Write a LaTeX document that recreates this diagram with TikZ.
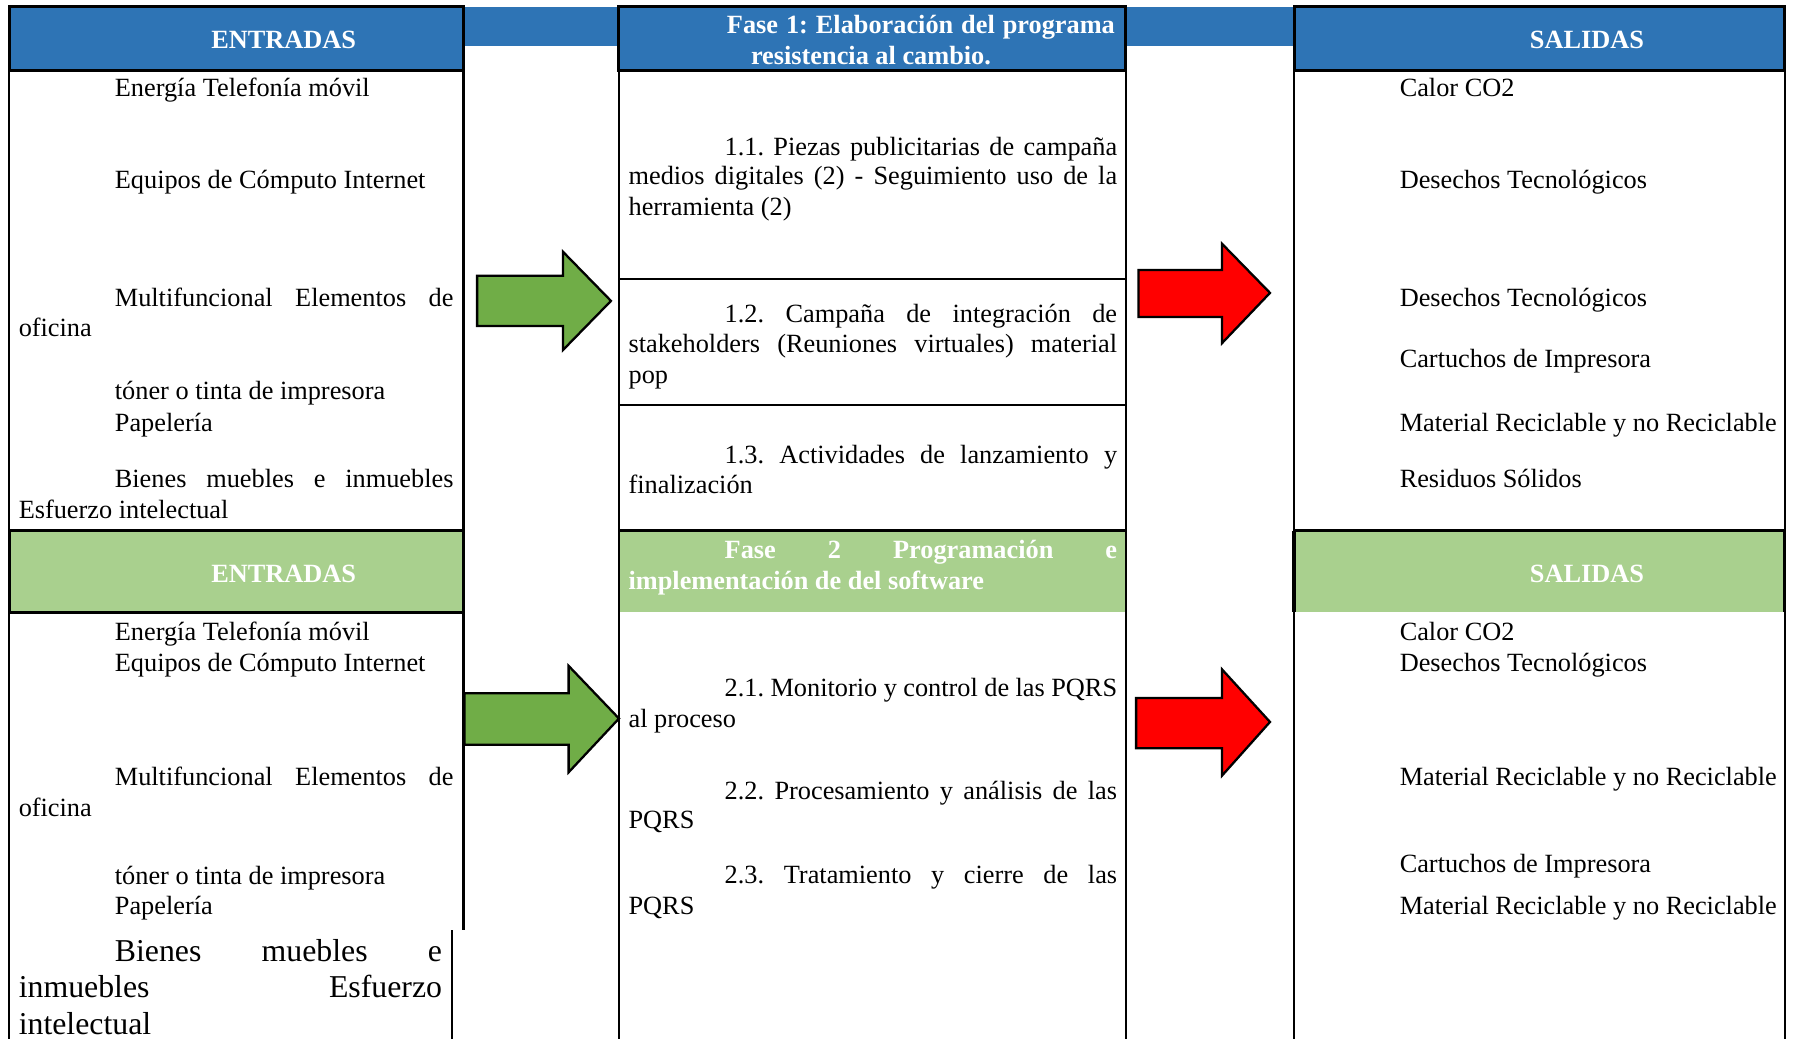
\documentclass[tikz,border=0pt]{standalone}
\usepackage{fontspec}
\setmainfont{Liberation Serif}
\frenchspacing
\definecolor{hdrblue}{RGB}{46,116,181}
\definecolor{hdrgreen}{RGB}{169,208,142}
\definecolor{arrgreen}{RGB}{112,173,71}
\definecolor{arrred}{RGB}{255,0,0}
\newcommand\jst[2]{\makebox[#1][s]{#2}}
\tikzset{
  body/.style={inner sep=0pt, anchor=base west, yshift=-0.75pt, font=\fontsize{11.5pt}{13.5pt}\selectfont},
  bigbody/.style={inner sep=0pt, anchor=base west, yshift=-0.5pt, font=\fontsize{13.9pt}{16pt}\selectfont},
  hdrtext/.style={inner sep=0pt, text=white, font=\fontsize{11.5pt}{13.5pt}\selectfont\bfseries},
  hdrbox/.style={draw=black, line width=1.3pt},
  rule/.style={draw=black, line width=1pt},
  thickrule/.style={draw=black, line width=1.4pt},
  bigarrow/.style={draw=black, line width=1pt, line join=miter}
}
\begin{document}
\begin{tikzpicture}[x=0.5pt, y=-0.5pt]
\useasboundingbox (0,0) rectangle (1568,908);
\fill[white] (0,0) rectangle (1568,908);

% top band behind the headers
\fill[hdrblue] (8,6) rectangle (1560,40);

% header boxes, phase 1
\filldraw[hdrbox, fill=hdrblue] (8,6) rectangle (405,62);
\filldraw[hdrbox, fill=hdrblue] (541,6) rectangle (984,62);
\filldraw[hdrbox, fill=hdrblue] (1131,6) rectangle (1560,62);

% column frames
\draw[rule] (8,62) -- (8,908);
\draw[rule] (405,62) -- (405,813);
\draw[rule] (395,813) -- (395,908);
\draw[rule] (541,62) -- (541,908);
\draw[rule] (984,62) -- (984,908);
\draw[rule] (1131,62) -- (1131,908);
\draw[rule] (1560,62) -- (1560,908);

% rows of the first phase
\draw[rule] (541,244) -- (984,244);
\draw[rule] (541,354) -- (984,354);

% header boxes, phase 2
\filldraw[hdrbox, fill=hdrgreen] (8,464) rectangle (405,535);
\fill[hdrgreen] (541,464) rectangle (984,535);
\draw[thickrule] (541,464) -- (984,464);
\draw[rule] (541,464) -- (541,535) (984,464) -- (984,535);
\fill[hdrgreen] (1131,464) rectangle (1560,535);
\draw[thickrule] (1131,464) -- (1560,464);
\draw[thickrule] (1131,464) -- (1131,535) (1560,464) -- (1560,535);

% header labels
\node[hdrtext] (in1) at (248,35) {ENTRADAS};
\node[hdrtext] (out1) at (1387,35) {SALIDAS};
\node[hdrtext, anchor=base west] (f1a) at (635,29) {\jst{169.5pt}{Fase 1: Elaboración del programa}};
\node[hdrtext, anchor=base west] (f1b) at (656,56) {resistencia al cambio.};
\node[hdrtext] (in2) at (248,502) {ENTRADAS};
\node[hdrtext] (out2) at (1387,502) {SALIDAS};
\node[hdrtext, anchor=base west] (f2a) at (633,488) {\jst{171.5pt}{Fase 2 Programación e}};
\node[hdrtext, anchor=base west] (f2b) at (549,515) {implementación de del software};

% inputs, phase 1
\node[body] (a1) at (100,83) {Energía Telefonía móvil};
\node[body] (a2) at (100,163) {Equipos de Cómputo Internet};
\node[body] (a3) at (100,266) {\jst{148pt}{Multifuncional Elementos de}};
\node[body] (a3b) at (16,293) {oficina};
\node[body] (a4) at (100,348) {tóner o tinta de impresora};
\node[body] (a4b) at (100,376) {Papelería};
\node[body] (a5) at (100,425) {\jst{148pt}{Bienes muebles e inmuebles}};
\node[body] (a5b) at (16,452) {Esfuerzo intelectual};

% inputs, phase 2
\node[body] (b1) at (100,558) {Energía Telefonía móvil};
\node[body] (b2) at (100,585) {Equipos de Cómputo Internet};
\node[body] (b3) at (100,685) {\jst{148pt}{Multifuncional Elementos de}};
\node[body] (b3b) at (16,712) {oficina};
\node[body] (b4) at (100,772) {tóner o tinta de impresora};
\node[body] (b4b) at (100,798) {Papelería};
\node[bigbody] (b5) at (100,839) {\jst{143pt}{Bienes muebles e}};
\node[bigbody] (b5b) at (16,871) {\jst{185pt}{inmuebles Esfuerzo}};
\node[bigbody] (b5c) at (16,903) {intelectual};

% activities, phase 1
\node[body] (p11) at (633,134) {\jst{171.5pt}{1.1. Piezas publicitarias de campaña}};
\node[body] (p11b) at (549,160) {\jst{213.5pt}{medios digitales (2) - Seguimiento uso de la}};
\node[body] (p11c) at (549,187) {herramienta (2)};
\node[body] (p12) at (633,280) {\jst{171.5pt}{1.2. Campaña de integración de}};
\node[body] (p12b) at (549,307) {\jst{213.5pt}{stakeholders (Reuniones virtuales) material}};
\node[body] (p12c) at (549,334) {pop};
\node[body] (p13) at (633,404) {\jst{171.5pt}{1.3. Actividades de lanzamiento y}};
\node[body] (p13b) at (549,430) {finalización};

% activities, phase 2
\node[body] (p21) at (633,607) {\jst{171.5pt}{2.1. Monitorio y control de las PQRS}};
\node[body] (p21b) at (549,634) {al proceso};
\node[body] (p22) at (633,697) {\jst{171.5pt}{2.2. Procesamiento y análisis de las}};
\node[body] (p22b) at (549,723) {PQRS};
\node[body] (p23) at (633,771) {\jst{171.5pt}{2.3. Tratamiento y cierre de las}};
\node[body] (p23b) at (549,798) {PQRS};

% outputs, phase 1
\node[body] (c1) at (1223,83) {Calor CO2};
\node[body] (c2) at (1223,163) {Desechos Tecnológicos};
\node[body] (c3) at (1223,266) {Desechos Tecnológicos};
\node[body] (c4) at (1223,320) {Cartuchos de Impresora};
\node[body] (c5) at (1223,376) {Material Reciclable y no Reciclable};
\node[body] (c6) at (1223,425) {Residuos Sólidos};

% outputs, phase 2
\node[body] (d1) at (1223,558) {Calor CO2};
\node[body] (d2) at (1223,585) {Desechos Tecnológicos};
\node[body] (d3) at (1223,685) {Material Reciclable y no Reciclable};
\node[body] (d4) at (1223,761) {Cartuchos de Impresora};
\node[body] (d5) at (1223,798) {Material Reciclable y no Reciclable};

% block arrows
\filldraw[bigarrow, fill=arrgreen]
  (417,241) -- (492,241) -- (492,220) -- (534,263) -- (492,306) -- (492,285) -- (417,285) -- cycle;
\filldraw[bigarrow, fill=arrred]
  (995,236) -- (1068,236) -- (1068,213) -- (1110,256) -- (1068,300) -- (1068,277) -- (995,277) -- cycle;
\filldraw[bigarrow, fill=arrgreen]
  (406,606) -- (497,606) -- (497,582) -- (541,628) -- (497,675) -- (497,651) -- (406,651) -- cycle;
\filldraw[bigarrow, fill=arrred]
  (993,610) -- (1068,610) -- (1068,585) -- (1110,631) -- (1068,678) -- (1068,654) -- (993,654) -- cycle;
\end{tikzpicture}
\end{document}
